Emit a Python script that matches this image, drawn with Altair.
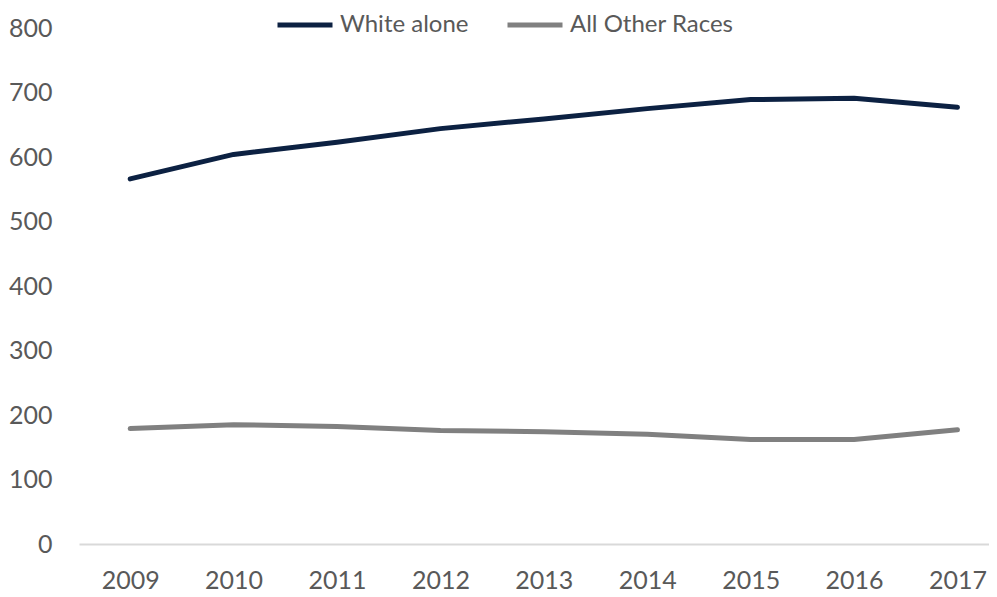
import altair as alt
import pandas as pd

years = [2009, 2010, 2011, 2012, 2013, 2014, 2015, 2016, 2017]
white_alone = [566, 604, 623, 644, 659, 675, 689, 691, 677]
all_other = [179, 185, 182, 176, 174, 170, 162, 162, 177]
series_names = ["White alone", "All Other Races"]
colors = ["#0c2142", "#808080"]

rows = []
for i, y in enumerate(years):
    rows.append({"year": y, "value": white_alone[i], "series": series_names[0]})
    rows.append({"year": y, "value": all_other[i], "series": series_names[1]})
df = pd.DataFrame(rows)

FONT = "Lato"

chart = alt.Chart(df).mark_line(strokeWidth=5, strokeCap="round", strokeJoin="round").encode(
    x=alt.X("year:Q",
            scale=alt.Scale(domain=[2008.505, 2017.305], nice=False, zero=False),
            axis=alt.Axis(values=years, format="d", title=None, ticks=False, grid=False,
                          domainColor="#d9d9d9", domainWidth=2, labelPadding=24,
                          labelFontSize=25, labelColor="#595959", labelFont=FONT,
                          labelFlush=False, labelOverlap=False)),
    y=alt.Y("value:Q",
            scale=alt.Scale(domain=[0, 800], nice=False),
            axis=alt.Axis(values=list(range(0, 801, 100)), title=None, ticks=False, grid=False,
                          domain=False, labelPadding=27, labelFontSize=25,
                          labelColor="#595959", labelFont=FONT)),
    color=alt.Color("series:N",
                    scale=alt.Scale(domain=series_names, range=colors),
                    sort=series_names,
                    legend=alt.Legend(title=None, orient="none", legendX=196, legendY=-33,
                                      direction="horizontal", symbolType="M-1,0H1",
                                      symbolSize=3025, symbolStrokeWidth=5,
                                      labelFontSize=24, labelColor="#595959", labelFont=FONT,
                                      labelOffset=5, columnPadding=28, labelLimit=400)),
).properties(
    width=910,
    height=516,
    autosize=alt.AutoSizeParams(type="none"),
    padding={"left": 71, "top": 20, "right": 0, "bottom": 52},
    background="white",
).configure_view(stroke=None, strokeWidth=0)

chart.save("out.html", embed_options={"renderer": "svg", "actions": False})
